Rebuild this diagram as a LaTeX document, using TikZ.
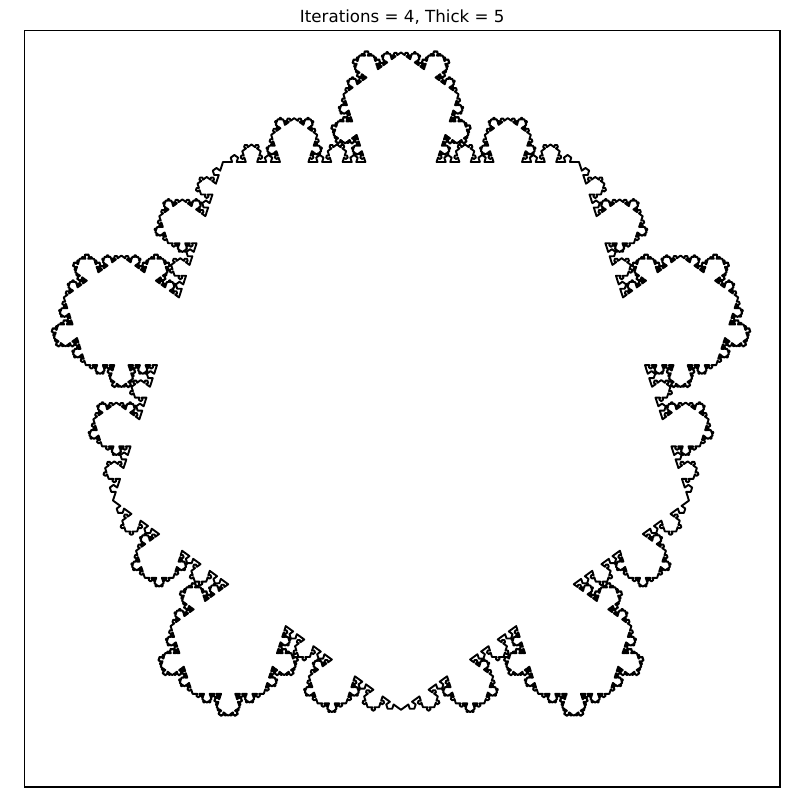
\documentclass[tikz,border=0pt]{standalone}
\usepackage{fontspec}
\setmainfont{DejaVu Sans}
\def\kx{0}\def\ky{0}\def\kang{0}
\def\kturn#1{\pgfmathparse{\kang+#1}\xdef\kang{\pgfmathresult}}
\def\kfwd#1{%
  \pgfmathparse{\kx+#1*cos(\kang)}\xdef\kx{\pgfmathresult}%
  \pgfmathparse{\ky+#1*sin(\kang)}\xdef\ky{\pgfmathresult}%
  \pgfpathlineto{\pgfqpoint{\kx pt}{\ky pt}}}
\def\kseg#1#2{%
  \ifnum#1=0 \kfwd{#2}\else
    \pgfmathtruncatemacro\kd{#1-1}%
    \pgfmathsetmacro\kA{0.4*#2}%
    \pgfmathsetmacro\kB{0.2*#2}%
    \edef\kdo{\noexpand\kseg{\kd}{\kA}\noexpand\kturn{108}%
      \noexpand\kseg{\kd}{\kB}\noexpand\kturn{-72}%
      \noexpand\kseg{\kd}{\kB}\noexpand\kturn{-72}%
      \noexpand\kseg{\kd}{\kB}\noexpand\kturn{-72}%
      \noexpand\kseg{\kd}{\kB}\noexpand\kturn{108}%
      \noexpand\kseg{\kd}{\kA}}%
    \expandafter\kdo
  \fi}
\tikzset{frame/.style={draw=black,line width=1.1pt},
  titletext/.style={anchor=base,font=\fontsize{16.67}{20}\selectfont}}
\begin{document}
\begin{tikzpicture}[x=1pt,y=1pt]
\useasboundingbox (0,0) rectangle (801,802);
\fill[white] (0,0) rectangle (801,802);
% fractal curve
\begin{pgfscope}
\pgfsetlinewidth{1.9pt}
\pgfsetroundjoin
\pgfsetroundcap
\gdef\kx{223}\gdef\ky{640}\gdef\kang{0}
\pgfpathmoveto{\pgfqpoint{223pt}{640pt}}
\kseg{4}{356}\kturn{-72}%
\kseg{4}{356}\kturn{-72}%
\kseg{4}{356}\kturn{-72}%
\kseg{4}{356}\kturn{-72}%
\kseg{4}{356}\kturn{-72}%
\pgfpathclose
\pgfusepath{stroke}
\end{pgfscope}
\node[frame,fill=none,inner sep=0pt,minimum width=755.5pt,minimum height=756.5pt] (axes) at (402.25,393.25) {};
\node[titletext] (title) at (402.25,779.8) {Iterations = 4, Thick = 5};
\end{tikzpicture}
\end{document}
